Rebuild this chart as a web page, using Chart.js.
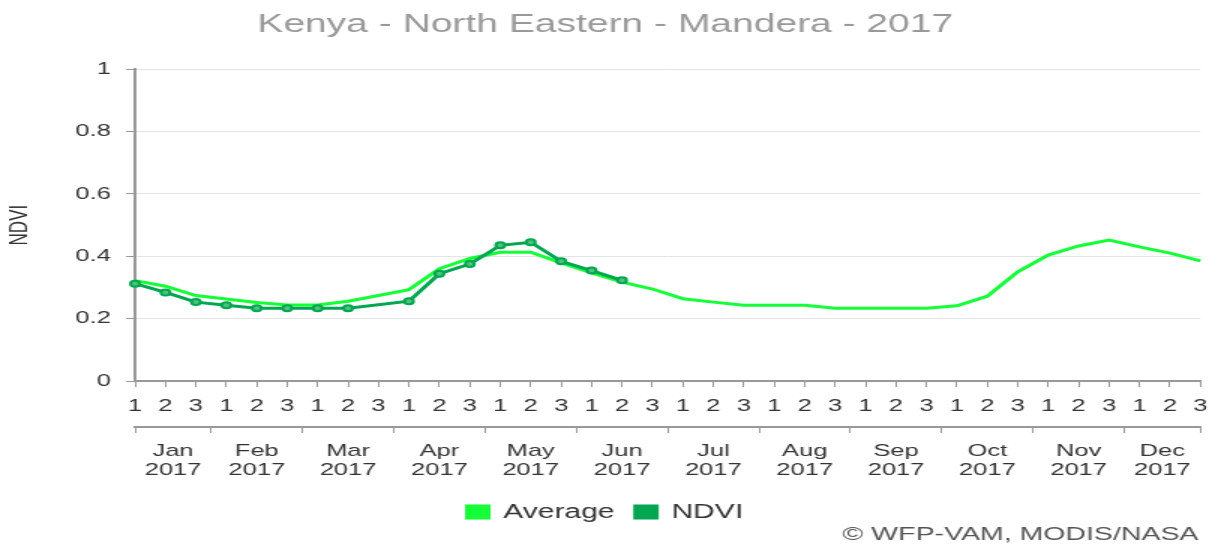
<!DOCTYPE html>
<html>
<head>
<meta charset="utf-8">
<title>Kenya - North Eastern - Mandera - 2017</title>
<script src="https://cdn.jsdelivr.net/npm/chart.js@4.4.0/dist/chart.umd.min.js"></script>
<style>
    html, body { margin: 0; padding: 0; background: #fff; overflow: hidden; }
    #wrap { width: 1221px; height: 544px; }
    /* la imagen original esta estirada a lo ancho */
    #chart { transform: scaleX(1.5); transform-origin: 0 0; }
</style>
</head>
<body>
<div id="wrap"><canvas id="chart" width="814" height="544"></canvas></div>
<script>
// Datos del grafico
const dekadas = ['1','2','3','1','2','3','1','2','3','1','2','3','1','2','3','1','2','3',
                 '1','2','3','1','2','3','1','2','3','1','2','3','1','2','3','1','2','3'];
const meses = ['Jan','Feb','Mar','Apr','May','Jun','Jul','Aug','Sep','Oct','Nov','Dec'];
const anio = '2017';
const mesCentro = [1.25, 4, 7, 10, 13, 16, 19, 22, 25, 28, 31, 33.75];
const mesLimites = [0, 2.5, 5.5, 8.5, 11.5, 14.5, 17.5, 20.5, 23.5, 26.5, 29.5, 32.5, 35];
const yTicks = [0, 0.2, 0.4, 0.6, 0.8, 1];

const promedio = [0.322, 0.304, 0.274, 0.263, 0.252, 0.244, 0.244, 0.256, 0.274, 0.293, 0.360, 0.393,
                  0.413, 0.413, 0.379, 0.347, 0.317, 0.295, 0.264, 0.253, 0.243, 0.243, 0.243, 0.233,
                  0.233, 0.233, 0.233, 0.241, 0.272, 0.350, 0.404, 0.433, 0.452, 0.430, 0.410, 0.385];
const ndvi = [0.312, 0.284, 0.253, 0.243, 0.233, 0.233, 0.233, 0.233, null, 0.256, 0.344, 0.375,
              0.435, 0.445, 0.384, 0.354, 0.323];

const fuente = 'Arial, "Liberation Sans", sans-serif';
Chart.defaults.font.family = fuente;
Chart.defaults.color = '#333';

// texto de creditos abajo a la derecha
const creditos = {
    id: 'creditos',
    afterDraw(chart) {
        const ctx = chart.ctx;
        ctx.save();
        ctx.font = '19px ' + fuente;
        ctx.fillStyle = '#555';
        ctx.textAlign = 'right';
        ctx.textBaseline = 'middle';
        ctx.fillText('© WFP-VAM, MODIS/NASA', chart.width - 15, chart.height - 9);
        ctx.restore();
    }
};

new Chart(document.getElementById('chart'), {
    type: 'line',
    data: {
        labels: dekadas,
        datasets: [
            {
                label: 'Average',
                data: promedio,
                borderColor: '#14ff38',
                backgroundColor: '#14ff38',
                borderWidth: 3,
                pointRadius: 0,
                tension: 0,
                order: 1
            },
            {
                label: 'NDVI',
                data: ndvi,
                borderColor: '#00a650',
                backgroundColor: '#00a650',
                borderWidth: 3,
                pointRadius: 3,
                pointBorderWidth: 2,
                pointBackgroundColor: '#4cc47c',
                pointBorderColor: '#00a650',
                spanGaps: true,
                tension: 0,
                order: 0
            }
        ]
    },
    options: {
        responsive: false,
        animation: false,
        layout: { padding: { left: 0, right: 7, top: 0, bottom: 12 } },
        plugins: {
            title: {
                display: true,
                text: 'Kenya - North Eastern - Mandera - 2017',
                color: '#999',
                font: { size: 26, weight: 'normal' },
                padding: { top: 9, bottom: 29 }
            },
            legend: {
                position: 'bottom',
                labels: {
                    boxWidth: 14,
                    boxHeight: 12,
                    font: { size: 20 },
                    color: '#333',
                    padding: 14,
                    sort: (a, b) => a.datasetIndex - b.datasetIndex
                }
            },
            tooltip: { enabled: false }
        },
        scales: {
            y: {
                min: 0,
                max: 1,
                afterBuildTicks: ax => { ax.ticks = yTicks.map(v => ({ value: v })); },
                afterFit: ax => { ax.width = 90; },
                ticks: {
                    font: { size: 17 },
                    color: '#333',
                    padding: 10,
                    callback: v => String(Math.round(v * 10) / 10)
                },
                grid: { color: '#e3e3e3', tickLength: 6, tickColor: '#999' },
                border: { color: '#999', width: 2 },
                title: { display: true, text: 'NDVI', font: { size: 17 }, color: '#333', padding: { top: 3, bottom: 0 } }
            },
            x: {
                position: 'bottom',
                afterFit: ax => { ax.height = 46; },
                ticks: { font: { size: 17 }, color: '#333', padding: 9, maxRotation: 0, autoSkip: false },
                grid: { drawOnChartArea: false, tickLength: 6, color: '#999' },
                border: { color: '#999', width: 2 }
            },
            xLimites: {
                type: 'linear',
                position: 'bottom',
                min: 0,
                max: 35,
                afterBuildTicks: ax => { ax.ticks = mesLimites.map(v => ({ value: v })); },
                afterFit: ax => { ax.height = 6; },
                ticks: { display: false },
                grid: { drawOnChartArea: false, tickLength: 6, color: '#999' },
                border: { color: '#999', width: 2 }
            },
            xMeses: {
                type: 'linear',
                position: 'bottom',
                min: 0,
                max: 35,
                afterBuildTicks: ax => { ax.ticks = mesCentro.map(v => ({ value: v })); },
                afterFit: ax => { ax.height = 55; },
                ticks: {
                    font: { size: 17, lineHeight: 1.12 },
                    color: '#333',
                    padding: 9,
                    maxRotation: 0,
                    autoSkip: false,
                    callback: (v, i) => [meses[i], anio]
                },
                grid: { display: false, drawTicks: false },
                border: { display: false }
            }
        }
    },
    plugins: [creditos]
});
</script>
</body>
</html>
